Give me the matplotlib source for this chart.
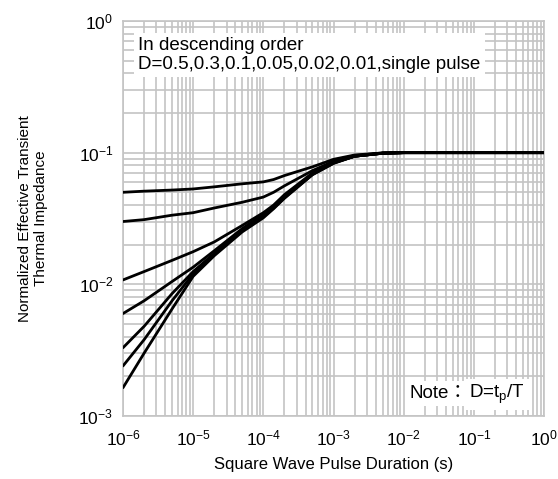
import matplotlib
matplotlib.use("Agg")
import matplotlib.pyplot as plt
from matplotlib.ticker import FixedLocator, LogLocator, NullFormatter

plt.rcParams['font.family'] = ['Liberation Sans', 'DejaVu Sans']
plt.rcParams['mathtext.fontset'] = 'custom'
plt.rcParams['mathtext.rm'] = 'Liberation Sans'
plt.rcParams['mathtext.it'] = 'Liberation Sans'

# pulse duration (s)
t = [1e-6, 2e-6, 5e-6, 1e-5, 2e-5, 5e-5, 1e-4, 1.4e-4, 2e-4, 5e-4, 1e-3, 2e-3, 5e-3, 1e-2, 1e-1, 1]

# normalized transient thermal impedance per duty cycle
z_d05 = [0.050, 0.051, 0.052, 0.053, 0.055, 0.058, 0.060, 0.0625, 0.067, 0.078, 0.089, 0.096, 0.0995, 0.1, 0.1, 0.1]
z_d03 = [0.030, 0.031, 0.0335, 0.035, 0.038, 0.042, 0.046, 0.050, 0.056, 0.073, 0.086, 0.095, 0.0995, 0.1, 0.1, 0.1]
z_d01 = [0.0108, 0.0125, 0.0152, 0.0177, 0.021, 0.028, 0.035, 0.040, 0.048, 0.070, 0.085, 0.094, 0.099, 0.1, 0.1, 0.1]
z_d005 = [0.0060, 0.0075, 0.0105, 0.0135, 0.018, 0.0265, 0.034, 0.039, 0.047, 0.069, 0.084, 0.094, 0.099, 0.1, 0.1, 0.1]
z_d002 = [0.0033, 0.0048, 0.0085, 0.0125, 0.0172, 0.026, 0.033, 0.038, 0.046, 0.069, 0.084, 0.094, 0.099, 0.1, 0.1, 0.1]
z_d001 = [0.0024, 0.0038, 0.0075, 0.012, 0.0168, 0.0255, 0.0325, 0.038, 0.0455, 0.068, 0.083, 0.094, 0.099, 0.1, 0.1, 0.1]
z_single = [0.00164, 0.0030, 0.0065, 0.0115, 0.0165, 0.025, 0.032, 0.0375, 0.045, 0.068, 0.083, 0.094, 0.099, 0.1, 0.1, 0.1]

curves = [z_d05, z_d03, z_d01, z_d005, z_d002, z_d001, z_single]

x_ticks = [1e-6, 1e-5, 1e-4, 1e-3, 1e-2, 1e-1, 1]
x_labels = ['10$^{-6}$', '10$^{-5}$', '10$^{-4}$', '10$^{-3}$', '10$^{-2}$', '10$^{-1}$', '10$^{0}$']
y_ticks = [1e-3, 1e-2, 1e-1, 1]
y_labels = ['10$^{-3}$', '10$^{-2}$', '10$^{-1}$', '10$^{0}$']

fig = plt.figure(figsize=(5.58, 4.79), dpi=100)
ax = fig.add_axes([0.2204, 0.1315, 0.7546, 0.8247])

for z in curves:
    ax.plot(t, z, color='black', linewidth=2.0, solid_capstyle='round', zorder=3)

ax.set_xscale('log')
ax.set_yscale('log')
ax.set_xlim(1e-6, 1)
ax.set_ylim(1e-3, 1)

ax.xaxis.set_major_locator(FixedLocator(x_ticks))
ax.yaxis.set_major_locator(FixedLocator(y_ticks))
ax.set_xticklabels(x_labels)
ax.set_yticklabels(y_labels)
ax.xaxis.set_minor_locator(LogLocator(base=10, subs=range(2, 10), numticks=20))
ax.yaxis.set_minor_locator(LogLocator(base=10, subs=range(2, 10), numticks=20))
ax.xaxis.set_minor_formatter(NullFormatter())
ax.yaxis.set_minor_formatter(NullFormatter())

ax.grid(True, which='both', color='#c4c4c4', linewidth=1.2)
ax.set_axisbelow(True)
for s in ax.spines.values():
    s.set_color('#c4c4c4')
    s.set_linewidth(1.2)
ax.tick_params(which='both', length=0, labelsize=12.5)
ax.tick_params(axis='x', pad=9)
ax.tick_params(axis='y', pad=7)

ax.set_xlabel('Square Wave Pulse Duration (s)', fontsize=12)
ax.xaxis.set_label_coords(0.5, -0.105)
ax.set_ylabel('Normalized Effective Transient\nThermal Impedance', fontsize=11)
ax.yaxis.set_label_coords(-0.178, 0.5)

ax.text(0.036, 0.96, 'In descending order\nD=0.5,0.3,0.1,0.05,0.02,0.01,single pulse',
        transform=ax.transAxes, fontsize=13.5, va='top', ha='left', linespacing=1.15,
        bbox=dict(facecolor='white', edgecolor='none', pad=3), zorder=4)

# note box: full-width colon needs the CJK font, the subscript needs mathtext
note = ax.text(0.68, 0.045, 'Note\uff1a', transform=ax.transAxes, fontsize=13.5,
               va='baseline', ha='left', family=['Liberation Sans', 'Noto Sans CJK JP'],
               bbox=dict(facecolor='white', edgecolor='none', pad=3), zorder=4)
ax.annotate('D=t$_\\mathrm{p}$/T', xy=(1, 0.045), xycoords=(note, 'axes fraction'),
            xytext=(1, 0), textcoords='offset points', fontsize=13.5,
            va='baseline', ha='left',
            bbox=dict(facecolor='white', edgecolor='none', pad=3), zorder=4)

fig.savefig('out.png', dpi=100)
